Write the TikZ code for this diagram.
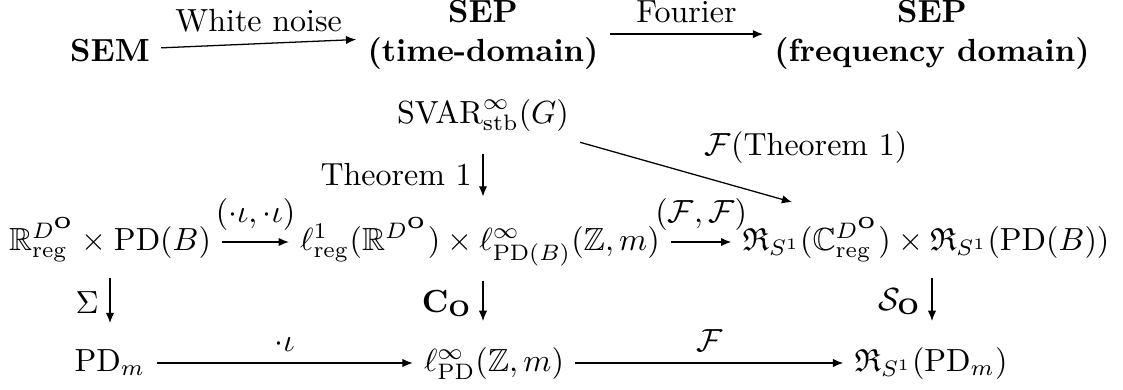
\documentclass[tikz,border=0pt]{standalone}
\usepackage{amsmath,amssymb}
\usetikzlibrary{arrows.meta}
\begin{document}
\begin{tikzpicture}[x=0.3125pt,y=-0.3125pt,
  obj/.style={anchor=base},
  arr/.style={-{Latex[length=3.2pt,width=2.6pt]}, line width=0.4pt},
  topv/.style={shorten <=3.5pt, shorten >=3.1pt},
  botv/.style={shorten <=1.25pt, shorten >=4.6pt},
]
\useasboundingbox (0,0) rectangle (1123,389);
% top row
\node[obj] (sem) at (110,61) {\textbf{SEM}};
\node[obj] (sept) at (483,61) {\begin{tabular}[b]{@{}c@{}}\textbf{SEP}\\\textbf{(time-domain)}\end{tabular}};
\node[obj] (sepf) at (932,61) {\begin{tabular}[b]{@{}c@{}}\textbf{SEP}\\\textbf{(frequency domain)}\end{tabular}};
% diagram
\node[obj] (svar) at (483,123) {$\mathrm{SVAR}^{\infty}_{\mathrm{stb}}(G)$};
\node[obj] (l2) at (110,250) {$\mathbb{R}^{D^{\mathbf{O}}}_{\mathrm{reg}}\times\mathrm{PD}(B)$};
\node[obj] (m2) at (480,250) {$\ell^1_{\mathrm{reg}}(\mathbb{R}^{D^{\mathbf{O}}})\times\ell^{\infty}_{\mathrm{PD}(B)}(\mathbb{Z},m)$};
\node[obj] (r2) at (926,250) {$\mathfrak{R}_{S^1}(\mathbb{C}^{D^{\mathbf{O}}}_{\mathrm{reg}})\times\mathfrak{R}_{S^1}(\mathrm{PD}(B))$};
\node[obj] (l3) at (110,371) {$\mathrm{PD}_m$};
\node[obj] (m3) at (494,371) {$\ell^{\infty}_{\mathrm{PD}}(\mathbb{Z},m)$};
\node[obj] (r3) at (931,371) {$\mathfrak{R}_{S^1}(\mathrm{PD}_m)$};
% top arrows
\draw[arr] (sem) -- (sept) node[midway,above] {White noise};
\draw[arr] (sept) -- (sepf) node[midway,above] {Fourier};
% vertical from svar
\draw[arr,topv] (svar.south) -- (m2.north -| svar.south) node[midway,left] {Theorem 1};
\draw[arr,shorten >=4.9pt] (svar.south east) -- (r2) node[midway,anchor=south west] {$\mathcal{F}$(Theorem 1)};
% row 2 horizontals
\draw[arr] ([yshift=2.5pt]l2.base east) -- ([yshift=2.5pt]m2.base west) node[midway,above] {$(\cdot\iota,\cdot\iota)$};
\draw[arr] ([yshift=2.5pt]m2.base east) -- ([yshift=2.5pt]r2.base west) node[midway,above] {$(\mathcal{F},\mathcal{F})$};
% row 2 -> row 3 verticals
\draw[arr,botv] (l2.south -| sem.south) -- (l3.north -| sem.south) node[pos=0.45,left] {$\Sigma$};
\draw[arr,botv] (m2.south -| sept.south) -- (m3.north -| sept.south) node[pos=0.45,left] {$\mathbf{C}_{\mathbf{O}}$};
\draw[arr,botv] (r2.south -| sepf.south) -- (r3.north -| sepf.south) node[pos=0.45,left] {$\mathcal{S}_{\mathbf{O}}$};
% row 3 horizontals
\draw[arr] ([yshift=2.5pt]l3.base east) -- ([yshift=2.5pt]m3.base west) node[midway,above] {$\cdot\iota$};
\draw[arr] ([yshift=2.5pt]m3.base east) -- ([yshift=2.5pt]r3.base west) node[midway,above] {$\mathcal{F}$};
\end{tikzpicture}
\end{document}
